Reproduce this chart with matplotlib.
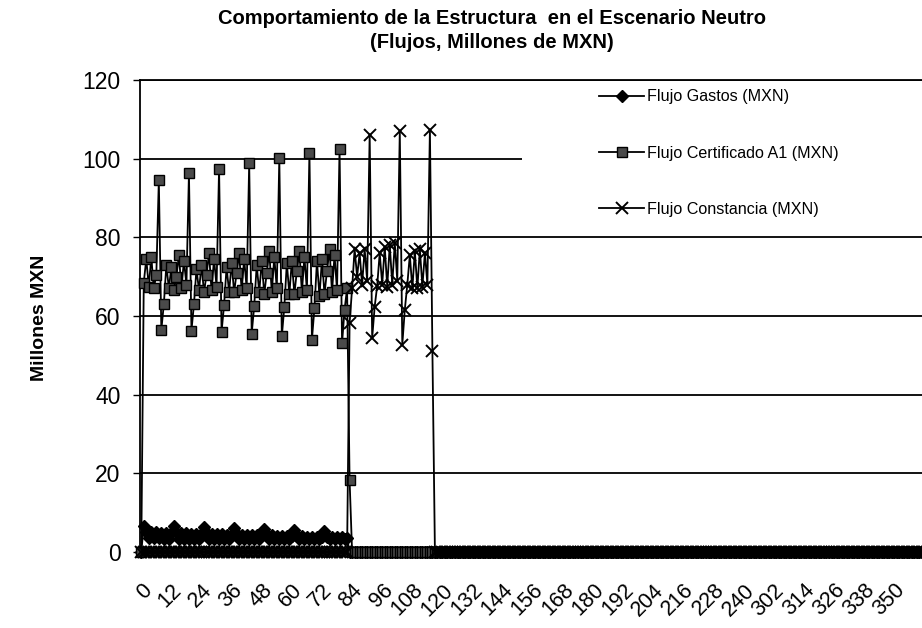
import numpy as np
import matplotlib
matplotlib.use("Agg")
import matplotlib.pyplot as plt
from matplotlib.patches import Rectangle

plt.rcParams['font.family'] = ['Liberation Sans', 'DejaVu Sans']

# number of monthly categories on the axis (chart is cropped at the right)
n_cat = 320

# Flujo Gastos (MXN), periods 0..83, zero afterwards
gastos_vals = [
    0.0, 6.7, 5.2, 3.5, 5.1, 3.5, 5.0, 3.5, 4.9, 3.4, 4.8, 3.4,
    4.8, 6.6, 5.0, 3.4, 4.9, 3.4, 4.8, 3.4, 4.7, 3.4, 4.6, 3.4,
    4.6, 6.4, 4.8, 3.4, 4.7, 3.4, 4.6, 3.4, 4.5, 3.4, 4.4, 3.3,
    4.4, 6.1, 4.5, 3.4, 4.4, 3.4, 4.3, 3.3, 4.3, 3.3, 4.2, 3.3,
    4.2, 5.9, 4.3, 3.3, 4.2, 3.3, 4.1, 3.3, 4.1, 3.3, 4.0, 3.3,
    4.0, 5.6, 4.1, 3.3, 4.0, 3.3, 3.9, 3.3, 3.9, 3.3, 3.8, 3.2,
    3.8, 5.3, 3.9, 3.3, 3.8, 3.2, 3.8, 3.2, 3.7, 3.2, 3.6, 0.0,
]

# Flujo Certificado A1 (MXN), periods 0..83, zero afterwards
certificado_vals = [
    0.0, 68.5, 74.5, 67.5, 75.0, 67.0, 70.5, 94.5, 56.5, 63.0, 73.0, 67.0,
    72.5, 66.5, 70.0, 75.5, 67.0, 74.0, 68.0, 96.3, 56.3, 63.0, 72.0, 66.5,
    73.0, 66.0, 70.5, 76.0, 66.5, 74.5, 67.5, 97.5, 56.0, 62.8, 72.5, 66.0,
    73.5, 66.0, 71.0, 76.0, 66.5, 74.5, 67.0, 98.8, 55.5, 62.5, 73.0, 66.0,
    74.0, 65.5, 71.0, 76.5, 66.0, 75.0, 67.0, 100.1, 54.8, 62.3, 73.5, 65.5,
    74.0, 65.5, 71.5, 76.5, 66.0, 75.0, 66.5, 101.5, 54.0, 62.0, 74.0, 65.0,
    74.5, 65.5, 71.5, 77.0, 66.0, 75.5, 66.5, 102.5, 53.1, 61.6, 67.0, 18.3,
]

# Flujo Constancia (MXN): zero for periods 0..82, values for 83..116, zero afterwards
constancia_start = 83
constancia_vals = [
    58.2, 67.0, 77.0, 70.0, 76.0, 68.0, 77.0, 69.0, 106.1, 54.4, 62.4, 67.7,
    76.0, 68.0, 77.6, 67.5, 78.0, 68.0, 78.6, 69.0, 107.0, 52.7, 61.6, 68.0,
    75.5, 67.0, 76.5, 67.0, 77.0, 67.5, 76.0, 68.0, 107.4, 51.0,
]

tick_labels = ["0", "12", "24", "36", "48", "60", "72", "84", "96", "108",
               "120", "132", "144", "156", "168", "180", "192", "204", "216",
               "228", "240", "302", "314", "326", "338", "350"]

series_names = ["Flujo Gastos (MXN)", "Flujo Certificado A1 (MXN)", "Flujo Constancia (MXN)"]

gastos = np.array(gastos_vals + [0.0] * (n_cat - len(gastos_vals)))
certificado = np.array(certificado_vals + [0.0] * (n_cat - len(certificado_vals)))
constancia = np.array([0.0] * constancia_start + constancia_vals
                      + [0.0] * (n_cat - constancia_start - len(constancia_vals)))
x = np.arange(n_cat)

fig = plt.figure(figsize=(9.22, 6.28), dpi=100)
px_per_cat = 2.51
ax = fig.add_axes([140 / 922, 76 / 628, px_per_cat * n_cat / 922, 472 / 628])

lw = 1.3
l1, = ax.plot(x, gastos, color="black", lw=lw, marker="D", markersize=6,
              markerfacecolor="black", markeredgecolor="black", clip_on=False, zorder=3)
l2, = ax.plot(x, certificado, color="black", lw=lw, marker="s", markersize=7,
              markerfacecolor="#4a4a4a", markeredgecolor="black", markeredgewidth=1,
              clip_on=False, zorder=4)
l3, = ax.plot(x, constancia, color="black", lw=lw, marker="x", markersize=9,
              markeredgewidth=1.4, clip_on=False, zorder=5)

ax.set_xlim(-0.5, n_cat - 0.5)
ax.set_ylim(0, 120)
ax.set_yticks(range(0, 121, 20))
ax.set_xticks(range(0, 12 * len(tick_labels), 12))
ax.set_xticklabels(tick_labels)
for lab in ax.get_xticklabels():
    lab.set_rotation(45)
    lab.set_ha("right")
    lab.set_va("top")
    lab.set_rotation_mode("anchor")
ax.tick_params(axis="x", length=0, pad=20, labelsize=15.5)
ax.tick_params(axis="y", length=5, width=1, pad=9, labelsize=16.5, direction="out")

ax.set_axisbelow(True)
ax.yaxis.grid(True, color="black", lw=lw)
for side in ["right", "bottom"]:
    ax.spines[side].set_visible(False)
ax.spines["left"].set_linewidth(lw)
ax.spines["top"].set_linewidth(lw)

# white legend area covering the gridline
ax.add_patch(Rectangle((522 / 922, (628 - 232) / 628), 0.5, 145 / 628,
                       transform=fig.transFigure, facecolor="white",
                       edgecolor="none", zorder=1.5))
leg = fig.legend([l1, l2, l3], series_names, loc="center left",
                 bbox_to_anchor=(591 / 922, (628 - 153) / 628), frameon=False,
                 fontsize=11.6, handlelength=2.8, handletextpad=0.15,
                 labelspacing=2.55, borderpad=0)

fig.text(40 / 922, (628 - 318) / 628, "Millones MXN", rotation=90,
         fontsize=14, fontweight="bold", ha="center", va="center")
fig.text(492 / 922, 1 - 9 / 628,
         "Comportamiento de la Estructura  en el Escenario Neutro\n(Flujos, Millones de MXN)",
         fontsize=14.5, fontweight="bold", ha="center", va="top", linespacing=1.35)

fig.savefig("out.png", dpi=100)
